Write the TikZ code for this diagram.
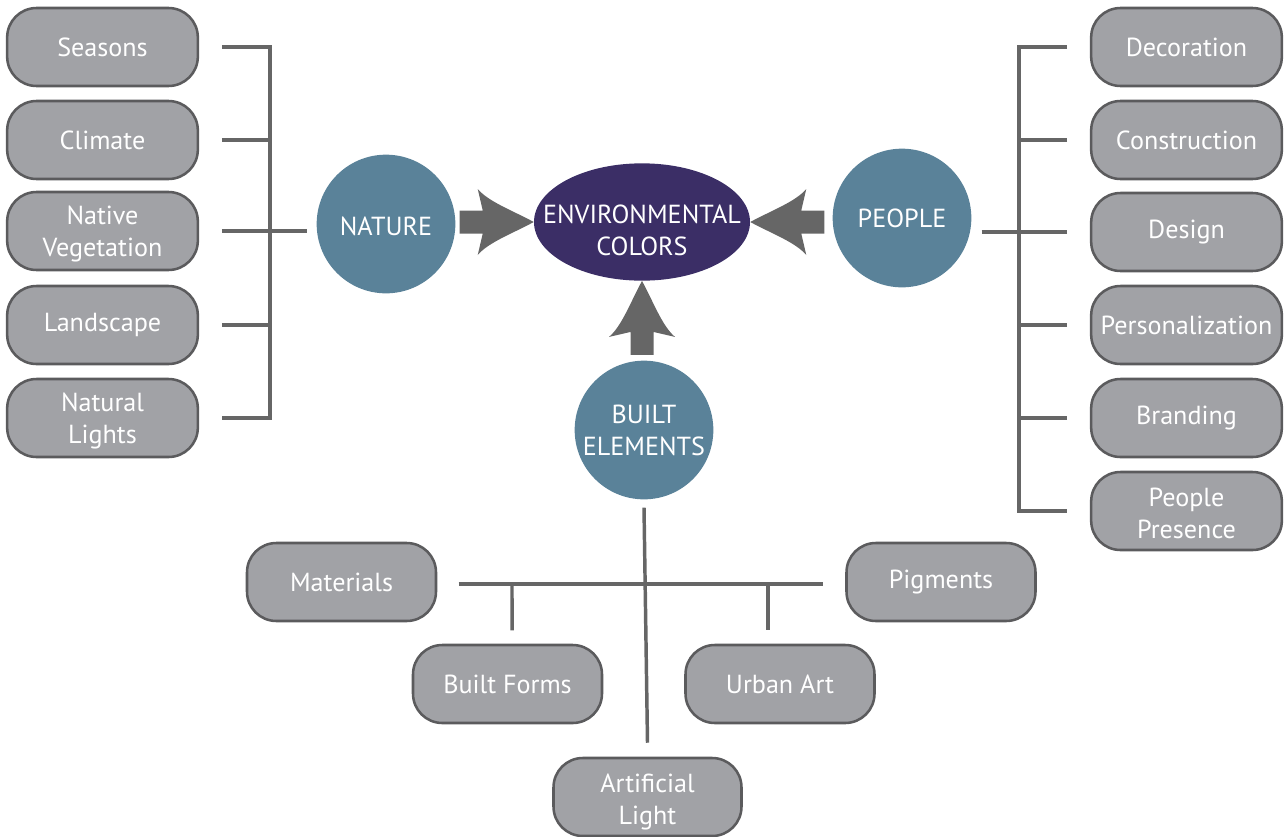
\documentclass[tikz,border=0pt]{standalone}
\usepackage{fontspec}
\setmainfont{PT Sans}
\usetikzlibrary{shapes.geometric,calc}

\definecolor{boxfill}{HTML}{A1A2A6}
\definecolor{boxline}{HTML}{5B5B5D}
\definecolor{hubfill}{HTML}{5A8299}
\definecolor{corefill}{HTML}{3B2E66}
\definecolor{linkgray}{HTML}{666666}
\definecolor{arrowgray}{HTML}{666666}

% invisible strut that lowers a two-line label a little inside its box
\newcommand{\firstline}[1][18pt]{\rule{0pt}{#1}}

\tikzset{
  % thick block arrow with concave head; tip at the origin, body along +x
  pics/fatarrow/.style={code={
    \fill[arrowgray] (0,0) .. controls (20,11) and (45,20) .. (56,33) -- (51,11.5) -- (74,11.5)
      -- (74,-11.5) -- (51,-11.5) -- (56,-33) .. controls (45,-20) and (20,-11) .. (0,0) -- cycle;
  }}
}

\begin{document}
\begin{tikzpicture}[x=0.75pt,y=-0.75pt,
  txt/.style={text=white, font=\fontsize{19.6}{24}\selectfont, align=center, inner sep=0pt},
  item/.style={txt, draw=boxline, fill=boxfill, line width=1.9pt, rounded corners=22pt,
               minimum width=143pt, minimum height=58.5pt},
  hub/.style={txt, circle, fill=hubfill, minimum size=104pt},
  core/.style={ellipse, fill=corefill, inner sep=0pt, minimum width=162pt, minimum height=88pt},
  link/.style={draw=linkgray, line width=2.6pt}]

\useasboundingbox (0,0) rectangle (1285,836);
\clip (0,0) rectangle (1285,836);

% centre and the three sources
\node[core] (env) at (642,222) {};
\node[txt]  (envlabel) at ([yshift=-6.5pt]env.center) {ENVIRONMENTAL\\COLORS};
\node[hub, text height=18pt] (nature) at (386,224) {NATURE};
\node[hub]  (people) at (902,218) {PEOPLE};
\node[hub]  (built)  at (644,430) {BUILT\\ELEMENTS};

% block arrows pointing into the centre
\pic[rotate=180] at (env.west)  {fatarrow};
\pic             at (env.east)  {fatarrow};
\pic[rotate=-90] at (env.south) {fatarrow};

% nature factors
\node[item] (seasons)    at (102.5,47)  {Seasons};
\node[item] (climate)    at (102.5,140) {Climate};
\node[item] (vegetation) at (102.5,231) {\firstline Native\\Vegetation};
\node[item] (landscape)  at (102.5,325) {Landscape};
\node[item] (natlight)   at (102.5,418) {\firstline Natural\\Lights};

% people factors
\node[item] (decoration)   at (1186.5,47)  {Decoration};
\node[item] (construction) at (1186.5,140) {Construction};
\node[item] (design)       at (1186.5,232) {Design};
\node[item] (personal)     at (1186.5,325) {Personalization};
\node[item] (branding)     at (1186.5,418) {Branding};
\node[item] (presence)     at (1186.5,511) {\firstline People\\Presence};

% built-element factors
\node[item, minimum width=141.75pt] (materials) at (341.5,582) {Materials};
\node[item, minimum width=141.75pt] (pigments)  at (941,582)   {Pigments};
\node[item, minimum width=141.75pt] (forms)     at (507.5,684) {Built Forms};
\node[item, minimum width=141.75pt] (urban)     at (780,684)   {Urban Art};
\node[item, minimum width=141pt]    (artlight)  at (647.5,797) {\firstline[22pt]Artificial\\Light};

% left bracket
\coordinate (lbar) at (270,0);
\draw[link] ([xshift=17pt]seasons.east) -| (natlight.east -| lbar) -- ([xshift=17pt]natlight.east);
\draw[link] ([xshift=17pt]climate.east) -- (climate.east -| lbar);
\draw[link] ([xshift=17pt]landscape.east) -- (landscape.east -| lbar);
\draw[link] ([xshift=17pt]vegetation.east) -- ([xshift=-7pt]nature.west |- vegetation.east);

% right bracket
\coordinate (rbar) at (1019,0);
\draw[link] ([xshift=-17pt]decoration.west) -| (presence.west -| rbar) -- ([xshift=-17pt]presence.west);
\draw[link] ([xshift=-17pt]construction.west) -- (construction.west -| rbar);
\draw[link] ([xshift=-17pt]design.west) -- (design.west -| rbar);
\draw[link] ([xshift=-17pt]personal.west) -- (personal.west -| rbar);
\draw[link] ([xshift=-17pt]branding.west) -- (branding.west -| rbar);
\draw[link] ([xshift=7.5pt]people.east |- design.west) -- (design.west -| rbar);

% tree below the built elements
\coordinate (hbar) at (0,584);
\draw[link] ([yshift=-6pt]built.south) -- ([yshift=10.5pt]artlight.north);
\draw[link] ([xshift=16pt]materials.east |- hbar) -- ([xshift=-16.5pt]pigments.west |- hbar);
\draw[link] (forms.north |- hbar) ++(4.5,0) -- ([xshift=3.4pt, yshift=10pt]forms.north);
\draw[link] (urban.north |- hbar) ++(-12,0) -- ([xshift=-9pt, yshift=10pt]urban.north);

\end{tikzpicture}
\end{document}
